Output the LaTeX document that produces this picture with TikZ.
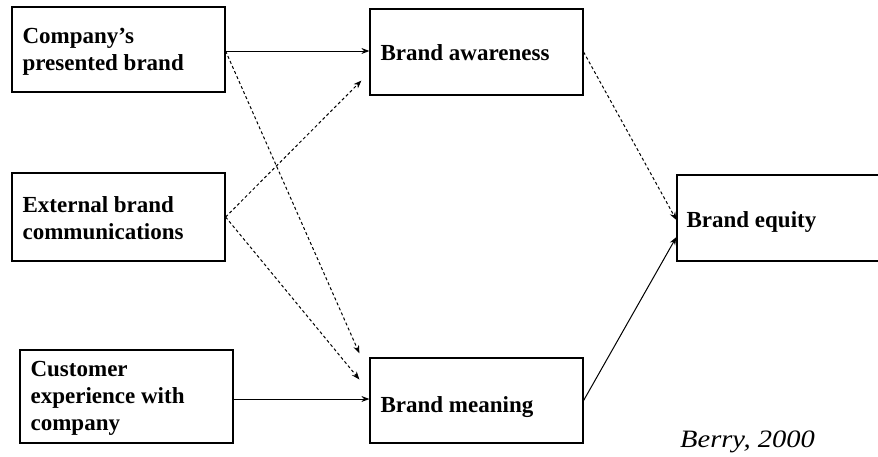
\documentclass[tikz,border=0pt]{standalone}
\usepackage{fontspec}
\setmainfont{Liberation Serif}
\usetikzlibrary{arrows.meta,calc}
\begin{document}
\begin{tikzpicture}[x=1pt,y=-1pt,
  box/.style={draw,line width=1.2pt,rectangle,minimum width=213pt,inner sep=0pt},
  inlabel/.style={font=\fontsize{23}{27}\selectfont\bfseries,align=left,anchor=west,inner sep=0pt},
  tip/.style={-{Stealth[length=8pt,width=6pt]}},
  link/.style={tip,line width=1pt},
  dlink/.style={tip,line width=1pt,dash pattern=on 3pt off 2.5pt}]
\useasboundingbox (0,0) rectangle (878,456);
\fill[white] (0,0) rectangle (878,456);
\clip (0,0) rectangle (878,456);

% source boxes
\node[box,minimum height=85pt] (A) at (118.5,49.5) {};
\node[inlabel] (Atxt) at ($(A.west)+(11,2)$) {Company’s\\presented brand};
\node[box,minimum height=88pt] (B) at (118.5,217) {};
\node[inlabel] (Btxt) at ($(B.west)+(11,1)$) {External brand\\communications};
\node[box,minimum height=93pt] (C) at (126.5,396.5) {};
\node[inlabel] (Ctxt) at ($(C.west)+(11,2)$) {Customer\\experience with\\company};

% intermediate and outcome boxes
\node[box,minimum height=86pt] (aw) at (476.5,52) {};
\node[inlabel] (awtxt) at ($(aw.west)+(11,1)$) {Brand awareness};
\node[box,minimum height=85pt] (me) at (476.5,400.5) {};
\node[inlabel] (metxt) at ($(me.west)+(11,7)$) {Brand meaning};
\node[box,minimum width=240pt,minimum height=86pt] (eq) at (797,218) {};
\node[inlabel] (eqtxt) at ($(eq.west)+(10,4)$) {Brand equity};

% citation
\node[font=\fontsize{25}{29}\selectfont\itshape,anchor=base west,inner sep=0pt,xscale=1.14] (cite) at (680,447) {Berry, 2000};

% solid links
\draw[link] ($(A.east)+(0,1.5)$) -- ($(A.east -| aw.west)+(0,1.5)$);
\draw[link] ($(C.east)+(0,2.5)$) -- ($(C.east -| me.west)+(0,2.5)$);
\draw[link] (me.east) -- ($(eq.west)+(0,19)$);

% dashed links
\draw[dlink] ($(A.east)+(0,1.5)$) -- ($(me.north west)+(-10,-4)$);
\draw[dlink] (B.east) -- ($(aw.south west)+(-8,-15)$);
\draw[dlink] (B.east) -- ($(me.west)+(-10,-21)$);
\draw[dlink] (aw.east) -- ($(eq.west)+(0,2)$);
\end{tikzpicture}
\end{document}
